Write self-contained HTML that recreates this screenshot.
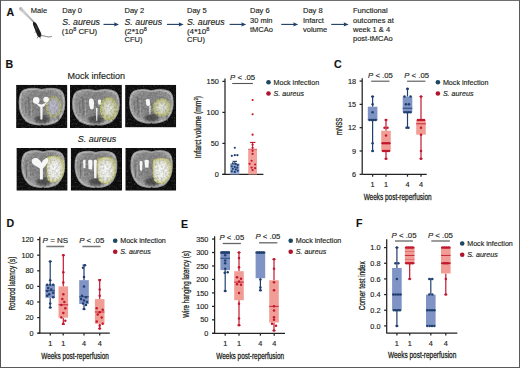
<!DOCTYPE html>
<html><head><meta charset="utf-8"><style>
html,body{margin:0;padding:0;background:#fff;}
svg{display:block;font-family:"Liberation Sans", sans-serif;}
text{stroke:#231f20;stroke-width:0.15px;}
text.c{stroke-width:0.28px;}
</style></head><body>
<svg width="520" height="368" viewBox="0 0 520 368">
<defs><linearGradient id="pip" x1="0" y1="0" x2="1" y2="1"><stop offset="0" stop-color="#b0b0b0"/><stop offset="0.3" stop-color="#d0d0d0"/><stop offset="0.7" stop-color="#b8b8b8"/><stop offset="1" stop-color="#808080"/></linearGradient><radialGradient id="brg" cx="0.5" cy="0.42" r="0.6"><stop offset="0" stop-color="#848484"/><stop offset="0.6" stop-color="#8c8c8c"/><stop offset="0.82" stop-color="#9e9e9e"/><stop offset="1" stop-color="#b6b6b6"/></radialGradient>
<radialGradient id="lesA" cx="0.5" cy="0.5" r="0.5"><stop offset="0" stop-color="#c4c4da"/><stop offset="0.6" stop-color="#b4b4c0"/><stop offset="1" stop-color="#a8aa84"/></radialGradient>
<radialGradient id="lesB" cx="0.5" cy="0.5" r="0.5"><stop offset="0" stop-color="#f4f4f0"/><stop offset="0.45" stop-color="#dadcc8"/><stop offset="1" stop-color="#b8ba7c"/></radialGradient>
<radialGradient id="lesC" cx="0.45" cy="0.5" r="0.55"><stop offset="0" stop-color="#ffffff"/><stop offset="0.6" stop-color="#eeeee6"/><stop offset="1" stop-color="#cacc92"/></radialGradient>
<filter id="bl" x="-0.2" y="-0.2" width="1.4" height="1.4"><feGaussianBlur stdDeviation="0.5"/></filter>
<filter id="bl3" x="-0.2" y="-0.2" width="1.4" height="1.4"><feGaussianBlur stdDeviation="0.3"/></filter>
<filter id="bl4" x="0" y="0" width="1" height="1"><feGaussianBlur stdDeviation="0.3"/></filter>
<filter id="bl2" x="-0.3" y="-0.3" width="1.6" height="1.6"><feGaussianBlur stdDeviation="1.0"/></filter>
<filter id="noise" x="0" y="0" width="1" height="1"><feTurbulence type="fractalNoise" baseFrequency="0.55" numOctaves="3" seed="7"/><feColorMatrix values="0 0 0 0 0.6  0 0 0 0 0.6  0 0 0 0 0.62  1.6 0 0 0 -0.72"/><feComposite in2="SourceGraphic" operator="in"/></filter>
<filter id="noise2" x="0" y="0" width="1" height="1"><feTurbulence type="fractalNoise" baseFrequency="0.5" numOctaves="2" seed="19"/><feColorMatrix values="0 0 0 0 0  0 0 0 0 0  0 0 0 0 0  0 1.5 0 0 -0.55"/><feComposite in2="SourceGraphic" operator="in"/></filter>
<clipPath id="bclip"><rect x="0" y="0" width="51" height="43"/></clipPath></defs>
<rect x="0.00" y="0.00" width="520.00" height="368.00" fill="#ffffff"/>
<text x="6.4" y="15.6" font-size="10.6" text-anchor="start" font-weight="bold" font-style="normal" fill="#111">A</text>
<text x="30.8" y="12.9" font-size="7.5" text-anchor="start" font-weight="normal" font-style="normal" fill="#231f20">Male</text>
<path d="M19.0 9.4 C18.6 7.6 20.4 6.4 21.8 7.4 L34.7 22.1 L33.8 23.0 Z" fill="url(#pip)"/>
<path d="M33.2 22.2 C34.8 21.4 36.0 22.6 36.9 24.4 L41.0 33.0 C41.8 35.0 41.3 36.8 39.7 37.2 C38.3 37.4 37.4 36.1 36.9 34.6 L33.3 25.4 C32.9 24.0 32.7 22.8 33.2 22.2 Z" fill="#1e1e1e"/>
<path d="M35.2 25.6 C35.8 26.2 36.4 27.6 36.9 29.2" stroke="#6a6a6a" stroke-width="0.5" fill="none"/>
<path d="M40.4 35.7 C43.4 35.4 45.8 36.6 48.4 36.9 C49.9 37.0 50.9 36.8 51.8 36.4" fill="none" stroke="#4a4a4a" stroke-width="0.7"/>
<path d="M38.0 36.4 L37.2 38.4 M39.9 36.8 L40.4 38.6 M36.0 31.6 L34.6 32.4" stroke="#333" stroke-width="0.55"/>
<text x="62.3" y="13.0" font-size="7.5" text-anchor="start" font-weight="normal" font-style="normal" fill="#231f20">Day 0</text>
<text x="62.3" y="25.2" font-size="8.8" text-anchor="start" font-weight="normal" font-style="italic" fill="#231f20">S. aureus</text>
<text x="61.8" y="33.8" font-size="7.5" fill="#231f20" textLength="35.4" lengthAdjust="spacingAndGlyphs">(10<tspan dy="-3.0" font-size="5.2">8</tspan><tspan dy="3.0"> CFU)</tspan></text>
<line x1="103.50" y1="24.40" x2="116.00" y2="24.40" stroke="#1f3d66" stroke-width="1.1"/>
<path d="M119.0 24.4 L114.0 22.2 L114.8 24.4 L114.0 26.599999999999998 Z" fill="#1f3d66"/>
<text x="124.5" y="13.0" font-size="7.5" text-anchor="start" font-weight="normal" font-style="normal" fill="#231f20">Day 2</text>
<text x="124.5" y="25.2" font-size="8.8" text-anchor="start" font-weight="normal" font-style="italic" fill="#231f20">S. aureus</text>
<text x="124.4" y="33.8" font-size="7.5" fill="#231f20" textLength="22.6" lengthAdjust="spacingAndGlyphs">(2*10<tspan dy="-3.0" font-size="5.2">8</tspan></text>
<text x="124.5" y="42.1" font-size="7.5" text-anchor="start" font-weight="normal" font-style="normal" fill="#231f20">CFU)</text>
<line x1="167.00" y1="24.40" x2="180.60" y2="24.40" stroke="#1f3d66" stroke-width="1.1"/>
<path d="M183.6 24.4 L178.6 22.2 L179.4 24.4 L178.6 26.599999999999998 Z" fill="#1f3d66"/>
<text x="187.0" y="13.0" font-size="7.5" text-anchor="start" font-weight="normal" font-style="normal" fill="#231f20">Day 5</text>
<text x="187.0" y="25.2" font-size="8.8" text-anchor="start" font-weight="normal" font-style="italic" fill="#231f20">S. aureus</text>
<text x="186.9" y="33.8" font-size="7.5" fill="#231f20" textLength="22.6" lengthAdjust="spacingAndGlyphs">(4*10<tspan dy="-3.0" font-size="5.2">8</tspan></text>
<text x="187.0" y="42.1" font-size="7.5" text-anchor="start" font-weight="normal" font-style="normal" fill="#231f20">CFU)</text>
<line x1="229.60" y1="24.40" x2="243.20" y2="24.40" stroke="#1f3d66" stroke-width="1.1"/>
<path d="M246.2 24.4 L241.2 22.2 L242.0 24.4 L241.2 26.599999999999998 Z" fill="#1f3d66"/>
<text x="250.0" y="13.0" font-size="7.5" text-anchor="start" font-weight="normal" font-style="normal" fill="#231f20">Day 6</text>
<text x="250.0" y="22.6" font-size="7.5" text-anchor="start" font-weight="normal" font-style="normal" fill="#231f20">30 min</text>
<text x="250.0" y="31.9" font-size="7.5" text-anchor="start" font-weight="normal" font-style="normal" fill="#231f20">tMCAo</text>
<line x1="281.20" y1="24.40" x2="295.20" y2="24.40" stroke="#1f3d66" stroke-width="1.1"/>
<path d="M298.2 24.4 L293.2 22.2 L294.0 24.4 L293.2 26.599999999999998 Z" fill="#1f3d66"/>
<text x="303.0" y="13.0" font-size="7.5" text-anchor="start" font-weight="normal" font-style="normal" fill="#231f20">Day 8</text>
<text x="303.0" y="22.6" font-size="7.5" text-anchor="start" font-weight="normal" font-style="normal" fill="#231f20">Infarct</text>
<text x="303.0" y="31.9" font-size="7.5" text-anchor="start" font-weight="normal" font-style="normal" fill="#231f20">volume</text>
<line x1="331.20" y1="24.40" x2="345.60" y2="24.40" stroke="#1f3d66" stroke-width="1.1"/>
<path d="M348.6 24.4 L343.6 22.2 L344.40000000000003 24.4 L343.6 26.599999999999998 Z" fill="#1f3d66"/>
<text x="353.0" y="13.0" font-size="7.5" text-anchor="start" font-weight="normal" font-style="normal" fill="#231f20">Functional</text>
<text x="353.0" y="22.6" font-size="7.5" text-anchor="start" font-weight="normal" font-style="normal" fill="#231f20">outcomes at</text>
<text x="353.0" y="31.9" font-size="7.5" text-anchor="start" font-weight="normal" font-style="normal" fill="#231f20">week 1 &amp; 4</text>
<text x="353.0" y="41.3" font-size="7.5" text-anchor="start" font-weight="normal" font-style="normal" fill="#231f20">post-tMCAo</text>
<text x="5.5" y="68.4" font-size="10.6" text-anchor="start" font-weight="bold" font-style="normal" fill="#111">B</text>
<text x="67.4" y="79.3" font-size="9.0" text-anchor="start" font-weight="normal" font-style="normal" fill="#231f20">Mock infection</text>
<text x="77.8" y="142.3" font-size="9.0" text-anchor="start" font-weight="normal" font-style="italic" fill="#231f20">S. aureus</text>
<g transform="translate(16.1 84.8) scale(1.0059 1.0070)" clip-path="url(#bclip)"><g filter="url(#bl4)"><rect x="0" y="0" width="51" height="43" fill="#0a0a0a"/><path d="M25.70 5.22 C31.03 3.80 39.02 3.44 43.46 5.58 C47.01 7.36 47.90 11.63 47.90 18.04 C47.90 25.87 45.68 31.57 40.80 35.84 C36.36 38.69 31.03 39.40 27.48 39.40 L25.70 38.69 L23.92 39.40 C20.37 39.40 15.04 38.69 10.60 35.84 C5.72 31.57 3.50 25.87 3.50 18.04 C3.50 11.63 4.39 7.36 7.94 5.58 C12.38 3.44 20.37 3.80 25.70 5.22 Z" fill="url(#brg)" filter="url(#bl)"/><path d="M25.70 5.22 C31.03 3.80 39.02 3.44 43.46 5.58 C47.01 7.36 47.90 11.63 47.90 18.04 C47.90 25.87 45.68 31.57 40.80 35.84 C36.36 38.69 31.03 39.40 27.48 39.40 L25.70 38.69 L23.92 39.40 C20.37 39.40 15.04 38.69 10.60 35.84 C5.72 31.57 3.50 25.87 3.50 18.04 C3.50 11.63 4.39 7.36 7.94 5.58 C12.38 3.44 20.37 3.80 25.70 5.22 Z" fill="none" stroke="#c8c8c8" stroke-width="2.0" opacity="0.7" filter="url(#bl)"/><ellipse cx="25.70" cy="34.42" rx="7.55" ry="4.27" fill="#3a3a3a" opacity="0.75" filter="url(#bl2)"/><path d="M12.5 12 L13.1 30" stroke="#707070" stroke-width="1.2" filter="url(#bl)"/><path d="M14.8 14 L15.4 31" stroke="#aaaaaa" stroke-width="0.9" filter="url(#bl)"/><path d="M9.0 14 L9.6 28" stroke="#7a7a7a" stroke-width="1.0" filter="url(#bl)"/><path d="M41.5 30 L42.1 36" stroke="#6a6a6a" stroke-width="1.0" filter="url(#bl)"/><ellipse cx="37.2" cy="21.8" rx="7.2" ry="10.0" fill="url(#lesA)" filter="url(#bl)"/><ellipse cx="37.2" cy="21.8" rx="7.2" ry="10.0" fill="none" stroke="#d4d256" stroke-width="1.1" stroke-dasharray="1 0.6" opacity="0.85" filter="url(#bl3)"/><rect x="0" y="0" width="51" height="43" fill="#fff" filter="url(#noise)" opacity="0.3"/><path d="M25.70 5.22 C31.03 3.80 39.02 3.44 43.46 5.58 C47.01 7.36 47.90 11.63 47.90 18.04 C47.90 25.87 45.68 31.57 40.80 35.84 C36.36 38.69 31.03 39.40 27.48 39.40 L25.70 38.69 L23.92 39.40 C20.37 39.40 15.04 38.69 10.60 35.84 C5.72 31.57 3.50 25.87 3.50 18.04 C3.50 11.63 4.39 7.36 7.94 5.58 C12.38 3.44 20.37 3.80 25.70 5.22 Z" fill="#000" filter="url(#noise2)" opacity="0.3"/><g fill="#f6f6f6" filter="url(#bl)"><path d="M16.7 15.5 a3.3 3.3 0 1 0 6.6 0 a3.3 3.3 0 1 0 -6.6 0 Z"/><path d="M27.0 14.6 a2.8 2.8 0 1 0 5.6 0 a2.8 2.8 0 1 0 -5.6 0 Z"/><path d="M18.6 17.4 L23.0 21.8 L27.6 21.8 L31.2 16.6 L28.0 18.6 L25.2 19.6 L22.0 18.6 Z"/><path d="M24.0 20.0 L26.4 20.0 L26.2 34.5 L24.2 34.5 Z"/></g></g></g>
<g transform="translate(70.0 84.8) scale(1.0176 1.0070)" clip-path="url(#bclip)"><g filter="url(#bl4)"><rect x="0" y="0" width="51" height="43" fill="#0a0a0a"/><path d="M25.50 6.48 C30.90 5.10 39.00 4.76 43.50 6.82 C47.10 8.54 48.00 12.67 48.00 18.86 C48.00 26.43 45.75 31.93 40.80 36.06 C36.30 38.81 30.90 39.50 27.30 39.50 L25.50 38.81 L23.70 39.50 C20.10 39.50 14.70 38.81 10.20 36.06 C5.25 31.93 3.00 26.43 3.00 18.86 C3.00 12.67 3.90 8.54 7.50 6.82 C12.00 4.76 20.10 5.10 25.50 6.48 Z" fill="url(#brg)" filter="url(#bl)"/><path d="M25.50 6.48 C30.90 5.10 39.00 4.76 43.50 6.82 C47.10 8.54 48.00 12.67 48.00 18.86 C48.00 26.43 45.75 31.93 40.80 36.06 C36.30 38.81 30.90 39.50 27.30 39.50 L25.50 38.81 L23.70 39.50 C20.10 39.50 14.70 38.81 10.20 36.06 C5.25 31.93 3.00 26.43 3.00 18.86 C3.00 12.67 3.90 8.54 7.50 6.82 C12.00 4.76 20.10 5.10 25.50 6.48 Z" fill="none" stroke="#c8c8c8" stroke-width="2.0" opacity="0.7" filter="url(#bl)"/><ellipse cx="25.50" cy="34.68" rx="7.65" ry="4.13" fill="#3a3a3a" opacity="0.75" filter="url(#bl2)"/><path d="M12.5 12 L13.1 30" stroke="#707070" stroke-width="1.2" filter="url(#bl)"/><path d="M14.8 14 L15.4 31" stroke="#aaaaaa" stroke-width="0.9" filter="url(#bl)"/><path d="M9.0 14 L9.6 28" stroke="#7a7a7a" stroke-width="1.0" filter="url(#bl)"/><path d="M41.5 30 L42.1 36" stroke="#6a6a6a" stroke-width="1.0" filter="url(#bl)"/><ellipse cx="38.0" cy="23.8" rx="8.1" ry="11.2" fill="url(#lesB)" filter="url(#bl)"/><ellipse cx="38.0" cy="23.8" rx="8.1" ry="11.2" fill="none" stroke="#d4d256" stroke-width="1.1" stroke-dasharray="1 0.6" opacity="0.85" filter="url(#bl3)"/><rect x="0" y="0" width="51" height="43" fill="#fff" filter="url(#noise)" opacity="0.3"/><path d="M25.50 6.48 C30.90 5.10 39.00 4.76 43.50 6.82 C47.10 8.54 48.00 12.67 48.00 18.86 C48.00 26.43 45.75 31.93 40.80 36.06 C36.30 38.81 30.90 39.50 27.30 39.50 L25.50 38.81 L23.70 39.50 C20.10 39.50 14.70 38.81 10.20 36.06 C5.25 31.93 3.00 26.43 3.00 18.86 C3.00 12.67 3.90 8.54 7.50 6.82 C12.00 4.76 20.10 5.10 25.50 6.48 Z" fill="#000" filter="url(#noise2)" opacity="0.3"/><g fill="#f6f6f6" filter="url(#bl)"><path d="M18.6 16.2 C18.6 13.6 20.2 13.4 21.2 13.6 C23.0 14.0 23.6 16.0 23.6 18.4 L23.2 23.6 C22.4 25.0 20.6 25.0 19.8 23.6 C19.0 21.6 18.6 18.6 18.6 16.2 Z"/><path d="M27.4 16.0 C27.6 14.4 29.8 14.0 30.8 15.4 L30.0 19.8 L27.8 19.6 Z"/><path d="M25.6 23.0 L27.0 23.0 L26.8 35.6 L25.8 35.6 Z"/></g></g></g>
<g transform="translate(125.1 84.8) scale(1.0020 0.9907)" clip-path="url(#bclip)"><g filter="url(#bl4)"><rect x="0" y="0" width="51" height="43" fill="#0a0a0a"/><path d="M26.25 6.42 C31.35 5.10 39.00 4.77 43.25 6.75 C46.65 8.41 47.50 12.38 47.50 18.34 C47.50 25.62 45.38 30.92 40.70 34.89 C36.45 37.54 31.35 38.20 27.95 38.20 L26.25 37.54 L24.55 38.20 C21.15 38.20 16.05 37.54 11.80 34.89 C7.12 30.92 5.00 25.62 5.00 18.34 C5.00 12.38 5.85 8.41 9.25 6.75 C13.50 4.77 21.15 5.10 26.25 6.42 Z" fill="url(#brg)" filter="url(#bl)"/><path d="M26.25 6.42 C31.35 5.10 39.00 4.77 43.25 6.75 C46.65 8.41 47.50 12.38 47.50 18.34 C47.50 25.62 45.38 30.92 40.70 34.89 C36.45 37.54 31.35 38.20 27.95 38.20 L26.25 37.54 L24.55 38.20 C21.15 38.20 16.05 37.54 11.80 34.89 C7.12 30.92 5.00 25.62 5.00 18.34 C5.00 12.38 5.85 8.41 9.25 6.75 C13.50 4.77 21.15 5.10 26.25 6.42 Z" fill="none" stroke="#c8c8c8" stroke-width="2.0" opacity="0.7" filter="url(#bl)"/><ellipse cx="26.25" cy="33.57" rx="7.23" ry="3.97" fill="#3a3a3a" opacity="0.75" filter="url(#bl2)"/><path d="M12.5 12 L13.1 30" stroke="#707070" stroke-width="1.2" filter="url(#bl)"/><path d="M14.8 14 L15.4 31" stroke="#aaaaaa" stroke-width="0.9" filter="url(#bl)"/><path d="M9.0 14 L9.6 28" stroke="#7a7a7a" stroke-width="1.0" filter="url(#bl)"/><path d="M41.5 30 L42.1 36" stroke="#6a6a6a" stroke-width="1.0" filter="url(#bl)"/><ellipse cx="36.6" cy="22.9" rx="8.4" ry="8.6" fill="url(#lesB)" filter="url(#bl)"/><ellipse cx="36.6" cy="22.9" rx="8.4" ry="8.6" fill="none" stroke="#d4d256" stroke-width="1.1" stroke-dasharray="1 0.6" opacity="0.85" filter="url(#bl3)"/><rect x="0" y="0" width="51" height="43" fill="#fff" filter="url(#noise)" opacity="0.3"/><path d="M26.25 6.42 C31.35 5.10 39.00 4.77 43.25 6.75 C46.65 8.41 47.50 12.38 47.50 18.34 C47.50 25.62 45.38 30.92 40.70 34.89 C36.45 37.54 31.35 38.20 27.95 38.20 L26.25 37.54 L24.55 38.20 C21.15 38.20 16.05 37.54 11.80 34.89 C7.12 30.92 5.00 25.62 5.00 18.34 C5.00 12.38 5.85 8.41 9.25 6.75 C13.50 4.77 21.15 5.10 26.25 6.42 Z" fill="#000" filter="url(#noise2)" opacity="0.3"/><g fill="#f6f6f6" filter="url(#bl)"><path d="M20.6 15.6 C21.0 14.0 23.4 13.8 24.6 15.0 L25.0 20.4 C24.0 21.6 22.0 21.6 21.2 20.4 Z"/><path d="M24.2 21.0 L25.4 21.0 L25.2 30.0 L24.4 30.0 Z"/></g></g></g>
<g transform="translate(16.4 148.0) scale(1.0039 0.9930)" clip-path="url(#bclip)"><g filter="url(#bl4)"><rect x="0" y="0" width="51" height="43" fill="#0a0a0a"/><path d="M26.65 4.45 C31.68 3.00 39.22 2.64 43.41 4.81 C46.76 6.62 47.60 10.96 47.60 17.48 C47.60 25.44 45.51 31.24 40.90 35.58 C36.71 38.48 31.68 39.20 28.33 39.20 L26.65 38.48 L24.97 39.20 C21.62 39.20 16.59 38.48 12.40 35.58 C7.79 31.24 5.70 25.44 5.70 17.48 C5.70 10.96 6.54 6.62 9.89 4.81 C14.08 2.64 21.62 3.00 26.65 4.45 Z" fill="url(#brg)" filter="url(#bl)"/><path d="M26.65 4.45 C31.68 3.00 39.22 2.64 43.41 4.81 C46.76 6.62 47.60 10.96 47.60 17.48 C47.60 25.44 45.51 31.24 40.90 35.58 C36.71 38.48 31.68 39.20 28.33 39.20 L26.65 38.48 L24.97 39.20 C21.62 39.20 16.59 38.48 12.40 35.58 C7.79 31.24 5.70 25.44 5.70 17.48 C5.70 10.96 6.54 6.62 9.89 4.81 C14.08 2.64 21.62 3.00 26.65 4.45 Z" fill="none" stroke="#c8c8c8" stroke-width="2.0" opacity="0.7" filter="url(#bl)"/><ellipse cx="26.65" cy="34.13" rx="7.12" ry="4.34" fill="#3a3a3a" opacity="0.75" filter="url(#bl2)"/><path d="M9.5 12 L10.1 30" stroke="#707070" stroke-width="1.0" filter="url(#bl)"/><path d="M12.0 14 L12.6 30" stroke="#aaaaaa" stroke-width="0.8" filter="url(#bl)"/><path d="M31.0 9.4 Q38.6 7.2 44.2 10.0 Q47.8 14.2 47.4 21.4 Q46.6 29.8 40.8 33.8 Q34.8 35.4 31.6 32.4 Q29.6 22 31.0 9.4 Z" fill="url(#lesC)" filter="url(#bl)"/><path d="M31.0 9.4 Q38.6 7.2 44.2 10.0 Q47.8 14.2 47.4 21.4 Q46.6 29.8 40.8 33.8 Q34.8 35.4 31.6 32.4 Q29.6 22 31.0 9.4 Z" fill="none" stroke="#d4d256" stroke-width="1.1" stroke-dasharray="1 0.6" opacity="0.85" filter="url(#bl3)"/><rect x="0" y="0" width="51" height="43" fill="#fff" filter="url(#noise)" opacity="0.3"/><path d="M26.65 4.45 C31.68 3.00 39.22 2.64 43.41 4.81 C46.76 6.62 47.60 10.96 47.60 17.48 C47.60 25.44 45.51 31.24 40.90 35.58 C36.71 38.48 31.68 39.20 28.33 39.20 L26.65 38.48 L24.97 39.20 C21.62 39.20 16.59 38.48 12.40 35.58 C7.79 31.24 5.70 25.44 5.70 17.48 C5.70 10.96 6.54 6.62 9.89 4.81 C14.08 2.64 21.62 3.00 26.65 4.45 Z" fill="#000" filter="url(#noise2)" opacity="0.3"/><g fill="#f6f6f6" filter="url(#bl)"><path d="M15.2 13.2 C15.4 10.2 18.6 9.6 21.0 10.4 L23.6 12.6 L25.0 15.0 L26.4 12.6 L29.4 10.2 C32.0 9.6 32.2 12.4 31.2 14.6 L28.8 18.2 L26.4 20.6 L26.4 31.8 L23.4 31.8 L23.4 20.6 L20.2 18.6 C16.8 17.0 15.2 15.4 15.2 13.2 Z"/></g></g></g>
<g transform="translate(70.7 148.0) scale(1.0059 0.9930)" clip-path="url(#bclip)"><g filter="url(#bl4)"><rect x="0" y="0" width="51" height="43" fill="#0a0a0a"/><path d="M25.10 5.02 C29.97 3.60 37.28 3.24 41.34 5.38 C44.59 7.16 45.40 11.43 45.40 17.84 C45.40 25.67 43.37 31.37 38.90 35.64 C34.84 38.49 29.97 39.20 26.72 39.20 L25.10 38.49 L23.48 39.20 C20.23 39.20 15.36 38.49 11.30 35.64 C6.83 31.37 4.80 25.67 4.80 17.84 C4.80 11.43 5.61 7.16 8.86 5.38 C12.92 3.24 20.23 3.60 25.10 5.02 Z" fill="url(#brg)" filter="url(#bl)"/><path d="M25.10 5.02 C29.97 3.60 37.28 3.24 41.34 5.38 C44.59 7.16 45.40 11.43 45.40 17.84 C45.40 25.67 43.37 31.37 38.90 35.64 C34.84 38.49 29.97 39.20 26.72 39.20 L25.10 38.49 L23.48 39.20 C20.23 39.20 15.36 38.49 11.30 35.64 C6.83 31.37 4.80 25.67 4.80 17.84 C4.80 11.43 5.61 7.16 8.86 5.38 C12.92 3.24 20.23 3.60 25.10 5.02 Z" fill="none" stroke="#c8c8c8" stroke-width="2.0" opacity="0.7" filter="url(#bl)"/><ellipse cx="25.10" cy="34.22" rx="6.90" ry="4.27" fill="#3a3a3a" opacity="0.75" filter="url(#bl2)"/><path d="M9.5 12 L10.1 30" stroke="#707070" stroke-width="1.0" filter="url(#bl)"/><path d="M12.0 14 L12.6 30" stroke="#aaaaaa" stroke-width="0.8" filter="url(#bl)"/><path d="M27.2 10.8 Q35 8.6 41.6 10.6 Q45 15 44.4 22 Q43.4 31 37.4 35.2 Q31 36.2 28 32.2 Q25.8 22 27.2 10.8 Z" fill="url(#lesC)" filter="url(#bl)"/><path d="M27.2 10.8 Q35 8.6 41.6 10.6 Q45 15 44.4 22 Q43.4 31 37.4 35.2 Q31 36.2 28 32.2 Q25.8 22 27.2 10.8 Z" fill="none" stroke="#d4d256" stroke-width="1.1" stroke-dasharray="1 0.6" opacity="0.85" filter="url(#bl3)"/><rect x="0" y="0" width="51" height="43" fill="#fff" filter="url(#noise)" opacity="0.3"/><path d="M25.10 5.02 C29.97 3.60 37.28 3.24 41.34 5.38 C44.59 7.16 45.40 11.43 45.40 17.84 C45.40 25.67 43.37 31.37 38.90 35.64 C34.84 38.49 29.97 39.20 26.72 39.20 L25.10 38.49 L23.48 39.20 C20.23 39.20 15.36 38.49 11.30 35.64 C6.83 31.37 4.80 25.67 4.80 17.84 C4.80 11.43 5.61 7.16 8.86 5.38 C12.92 3.24 20.23 3.60 25.10 5.02 Z" fill="#000" filter="url(#noise2)" opacity="0.3"/><g fill="#f6f6f6" filter="url(#bl)"><path d="M12.3 13.0 C12.4 11.6 14.4 11.4 14.8 13.0 L14.6 20.4 L12.6 20.2 Z"/><path d="M17.3 13.0 C17.6 11.4 21.2 11.4 21.7 13.2 L21.4 21.6 L17.8 21.4 Z"/><path d="M22.9 12.8 C23.2 11.6 25.8 11.6 26.0 12.8 L25.6 30.5 L23.4 30.5 Z"/></g></g></g>
<g transform="translate(125.3 148.0) scale(0.9980 0.9930)" clip-path="url(#bclip)"><g filter="url(#bl4)"><rect x="0" y="0" width="51" height="43" fill="#0a0a0a"/><path d="M26.40 4.45 C31.27 3.00 38.58 2.64 42.64 4.81 C45.89 6.62 46.70 10.96 46.70 17.48 C46.70 25.44 44.67 31.24 40.20 35.58 C36.14 38.48 31.27 39.20 28.02 39.20 L26.40 38.48 L24.78 39.20 C21.53 39.20 16.66 38.48 12.60 35.58 C8.13 31.24 6.10 25.44 6.10 17.48 C6.10 10.96 6.91 6.62 10.16 4.81 C14.22 2.64 21.53 3.00 26.40 4.45 Z" fill="url(#brg)" filter="url(#bl)"/><path d="M26.40 4.45 C31.27 3.00 38.58 2.64 42.64 4.81 C45.89 6.62 46.70 10.96 46.70 17.48 C46.70 25.44 44.67 31.24 40.20 35.58 C36.14 38.48 31.27 39.20 28.02 39.20 L26.40 38.48 L24.78 39.20 C21.53 39.20 16.66 38.48 12.60 35.58 C8.13 31.24 6.10 25.44 6.10 17.48 C6.10 10.96 6.91 6.62 10.16 4.81 C14.22 2.64 21.53 3.00 26.40 4.45 Z" fill="none" stroke="#c8c8c8" stroke-width="2.0" opacity="0.7" filter="url(#bl)"/><ellipse cx="26.40" cy="34.13" rx="6.90" ry="4.34" fill="#3a3a3a" opacity="0.75" filter="url(#bl2)"/><path d="M9.5 12 L10.1 30" stroke="#707070" stroke-width="1.0" filter="url(#bl)"/><path d="M12.0 14 L12.6 30" stroke="#aaaaaa" stroke-width="0.8" filter="url(#bl)"/><path d="M28.4 12.0 Q36 9.6 42.6 11.4 Q46.4 15.6 45.8 23 Q44.8 31.2 38.6 35.2 Q32 36.2 29 32.4 Q27 22.6 28.4 12.0 Z" fill="url(#lesC)" filter="url(#bl)"/><path d="M28.4 12.0 Q36 9.6 42.6 11.4 Q46.4 15.6 45.8 23 Q44.8 31.2 38.6 35.2 Q32 36.2 29 32.4 Q27 22.6 28.4 12.0 Z" fill="none" stroke="#d4d256" stroke-width="1.1" stroke-dasharray="1 0.6" opacity="0.85" filter="url(#bl3)"/><rect x="0" y="0" width="51" height="43" fill="#fff" filter="url(#noise)" opacity="0.3"/><path d="M26.40 4.45 C31.27 3.00 38.58 2.64 42.64 4.81 C45.89 6.62 46.70 10.96 46.70 17.48 C46.70 25.44 44.67 31.24 40.20 35.58 C36.14 38.48 31.27 39.20 28.02 39.20 L26.40 38.48 L24.78 39.20 C21.53 39.20 16.66 38.48 12.60 35.58 C8.13 31.24 6.10 25.44 6.10 17.48 C6.10 10.96 6.91 6.62 10.16 4.81 C14.22 2.64 21.53 3.00 26.40 4.45 Z" fill="#000" filter="url(#noise2)" opacity="0.3"/><g fill="#f6f6f6" filter="url(#bl)"><path d="M19.2 13.0 C19.6 11.6 23.2 11.6 23.6 13.0 L23.2 19.8 L19.8 19.6 Z"/><path d="M14.2 14.2 C14.6 12.8 16.8 12.8 17.3 14.2 L16.8 23.0 L14.8 22.6 Z"/></g></g></g>
<line x1="225.00" y1="78.60" x2="225.00" y2="174.40" stroke="#222" stroke-width="1.25"/>
<line x1="222.40" y1="81.40" x2="225.00" y2="81.40" stroke="#222" stroke-width="1.25"/>
<text x="218.8" y="84.0" font-size="7.3" text-anchor="end" font-weight="normal" font-style="normal" fill="#231f20">150</text>
<line x1="222.40" y1="112.40" x2="225.00" y2="112.40" stroke="#222" stroke-width="1.25"/>
<text x="218.8" y="115.0" font-size="7.3" text-anchor="end" font-weight="normal" font-style="normal" fill="#231f20">100</text>
<line x1="222.40" y1="143.40" x2="225.00" y2="143.40" stroke="#222" stroke-width="1.25"/>
<text x="218.8" y="146.0" font-size="7.3" text-anchor="end" font-weight="normal" font-style="normal" fill="#231f20">50</text>
<line x1="222.40" y1="174.40" x2="225.00" y2="174.40" stroke="#222" stroke-width="1.25"/>
<text x="218.8" y="177.0" font-size="7.3" text-anchor="end" font-weight="normal" font-style="normal" fill="#231f20">0</text>
<line x1="222.30" y1="174.40" x2="263.40" y2="174.40" stroke="#222" stroke-width="1.3"/>
<text class="c" transform="translate(200.6 127.2) rotate(-90)" x="0" y="0" font-size="8.5" text-anchor="middle" font-style="normal" fill="#231f20" textLength="62.3" lengthAdjust="spacingAndGlyphs">Infarct volume (mm<tspan dy="-2.6" font-size="5.2">3</tspan><tspan dy="2.6">)</tspan></text>
<text x="230.1" y="80.4" font-size="7.8" fill="#231f20" textLength="25.000000000000018" lengthAdjust="spacingAndGlyphs"><tspan font-style="italic">P</tspan> &lt; .05</text>
<line x1="232.20" y1="83.50" x2="252.90" y2="83.50" stroke="#555" stroke-width="1.1"/>
<rect x="230.20" y="164.17" width="9.20" height="10.23" fill="#93a8d6"/>
<rect x="248.20" y="149.23" width="8.80" height="25.17" fill="#f2a29a"/>
<line x1="234.80" y1="164.17" x2="234.80" y2="161.38" stroke="#213f6e" stroke-width="1.0"/>
<line x1="232.60" y1="161.38" x2="237.00" y2="161.38" stroke="#213f6e" stroke-width="1.1"/>
<line x1="252.60" y1="149.23" x2="252.60" y2="142.41" stroke="#c3172f" stroke-width="1.0"/>
<line x1="250.00" y1="142.41" x2="255.40" y2="142.41" stroke="#c3172f" stroke-width="1.1"/>
<line x1="230.20" y1="164.17" x2="239.40" y2="164.17" stroke="#213f6e" stroke-width="0.6"/>
<line x1="248.20" y1="149.23" x2="257.00" y2="149.23" stroke="#c3172f" stroke-width="0.6"/>
<circle cx="234.80" cy="147.74" r="1.1" fill="#213f6e"/>
<circle cx="231.80" cy="155.80" r="1.1" fill="#213f6e"/>
<circle cx="234.80" cy="155.18" r="1.1" fill="#213f6e"/>
<circle cx="237.40" cy="155.18" r="1.1" fill="#213f6e"/>
<circle cx="232.80" cy="163.24" r="1.1" fill="#213f6e"/>
<circle cx="235.80" cy="163.86" r="1.1" fill="#213f6e"/>
<circle cx="237.80" cy="165.10" r="1.1" fill="#213f6e"/>
<circle cx="231.80" cy="166.34" r="1.1" fill="#213f6e"/>
<circle cx="234.80" cy="166.96" r="1.1" fill="#213f6e"/>
<circle cx="237.30" cy="167.58" r="1.1" fill="#213f6e"/>
<circle cx="232.80" cy="168.82" r="1.1" fill="#213f6e"/>
<circle cx="235.80" cy="169.44" r="1.1" fill="#213f6e"/>
<circle cx="237.80" cy="170.68" r="1.1" fill="#213f6e"/>
<circle cx="231.80" cy="171.30" r="1.1" fill="#213f6e"/>
<circle cx="234.80" cy="171.92" r="1.1" fill="#213f6e"/>
<circle cx="252.60" cy="100.00" r="1.1" fill="#c3172f"/>
<circle cx="252.60" cy="114.26" r="1.1" fill="#c3172f"/>
<circle cx="252.60" cy="134.72" r="1.1" fill="#c3172f"/>
<circle cx="252.60" cy="144.64" r="1.1" fill="#c3172f"/>
<circle cx="252.60" cy="147.74" r="1.1" fill="#c3172f"/>
<circle cx="252.60" cy="150.84" r="1.1" fill="#c3172f"/>
<circle cx="252.60" cy="153.94" r="1.1" fill="#c3172f"/>
<circle cx="251.60" cy="160.76" r="1.1" fill="#c3172f"/>
<circle cx="249.60" cy="163.86" r="1.1" fill="#c3172f"/>
<circle cx="255.10" cy="164.48" r="1.1" fill="#c3172f"/>
<circle cx="251.60" cy="167.58" r="1.1" fill="#c3172f"/>
<circle cx="255.10" cy="168.20" r="1.1" fill="#c3172f"/>
<circle cx="252.60" cy="170.06" r="1.1" fill="#c3172f"/>
<circle cx="268.50" cy="82.30" r="2.3" fill="#1a4862"/>
<circle cx="268.50" cy="93.50" r="2.3" fill="#ae142e"/>
<text x="273.5" y="84.89999999999999" font-size="7.15" text-anchor="start" font-weight="normal" font-style="normal" fill="#231f20">Mock infection</text>
<text x="273.5" y="96.1" font-size="7.15" text-anchor="start" font-weight="normal" font-style="italic" fill="#231f20">S. aureus</text>
<text x="334.0" y="68.3" font-size="10.6" text-anchor="start" font-weight="bold" font-style="normal" fill="#111">C</text>
<line x1="362.20" y1="78.26" x2="362.20" y2="174.30" stroke="#222" stroke-width="1.25"/>
<line x1="359.60" y1="81.06" x2="362.20" y2="81.06" stroke="#222" stroke-width="1.25"/>
<text x="356.0" y="83.66" font-size="7.3" text-anchor="end" font-weight="normal" font-style="normal" fill="#231f20">18</text>
<line x1="359.60" y1="104.37" x2="362.20" y2="104.37" stroke="#222" stroke-width="1.25"/>
<text x="356.0" y="106.97" font-size="7.3" text-anchor="end" font-weight="normal" font-style="normal" fill="#231f20">15</text>
<line x1="359.60" y1="127.68" x2="362.20" y2="127.68" stroke="#222" stroke-width="1.25"/>
<text x="356.0" y="130.28" font-size="7.3" text-anchor="end" font-weight="normal" font-style="normal" fill="#231f20">12</text>
<line x1="359.60" y1="150.99" x2="362.20" y2="150.99" stroke="#222" stroke-width="1.25"/>
<text x="356.0" y="153.59" font-size="7.3" text-anchor="end" font-weight="normal" font-style="normal" fill="#231f20">9</text>
<line x1="359.60" y1="174.30" x2="362.20" y2="174.30" stroke="#222" stroke-width="1.25"/>
<text x="356.0" y="176.9" font-size="7.3" text-anchor="end" font-weight="normal" font-style="normal" fill="#231f20">6</text>
<line x1="362.20" y1="174.30" x2="426.70" y2="174.30" stroke="#222" stroke-width="1.25"/>
<line x1="372.60" y1="174.30" x2="372.60" y2="176.70" stroke="#222" stroke-width="1.25"/>
<text x="372.6" y="187.2" font-size="7.3" text-anchor="middle" font-weight="normal" font-style="normal" fill="#231f20">1</text>
<line x1="386.00" y1="174.30" x2="386.00" y2="176.70" stroke="#222" stroke-width="1.25"/>
<text x="386.0" y="187.2" font-size="7.3" text-anchor="middle" font-weight="normal" font-style="normal" fill="#231f20">1</text>
<line x1="407.50" y1="174.30" x2="407.50" y2="176.70" stroke="#222" stroke-width="1.25"/>
<text x="407.5" y="187.2" font-size="7.3" text-anchor="middle" font-weight="normal" font-style="normal" fill="#231f20">4</text>
<line x1="421.00" y1="174.30" x2="421.00" y2="176.70" stroke="#222" stroke-width="1.25"/>
<text x="421.0" y="187.2" font-size="7.3" text-anchor="middle" font-weight="normal" font-style="normal" fill="#231f20">4</text>
<text class="c" transform="translate(342.2 126.3) rotate(-90)" x="0" y="0" font-size="8.5" text-anchor="middle" font-style="normal" fill="#231f20" textLength="17.2" lengthAdjust="spacingAndGlyphs">mNSS</text>
<text class="c" transform="translate(397.6 200.4)" x="0" y="0" font-size="8.5" text-anchor="middle" font-style="normal" fill="#231f20" textLength="67.9" lengthAdjust="spacingAndGlyphs">Weeks post-reperfusion</text>
<text x="368.1" y="77.6" font-size="7.8" fill="#231f20" textLength="24.699999999999978" lengthAdjust="spacingAndGlyphs"><tspan font-style="italic">P</tspan> &lt; .05</text>
<line x1="371.20" y1="81.20" x2="389.50" y2="81.20" stroke="#555" stroke-width="1.1"/>
<text x="404.3" y="77.6" font-size="7.8" fill="#231f20" textLength="24.699999999999978" lengthAdjust="spacingAndGlyphs"><tspan font-style="italic">P</tspan> &lt; .05</text>
<line x1="407.10" y1="81.20" x2="425.40" y2="81.20" stroke="#555" stroke-width="1.1"/>
<circle cx="437.90" cy="82.30" r="2.3" fill="#1a4862"/>
<circle cx="437.90" cy="93.50" r="2.3" fill="#ae142e"/>
<text x="442.9" y="84.89999999999999" font-size="7.15" text-anchor="start" font-weight="normal" font-style="normal" fill="#231f20">Mock infection</text>
<text x="442.9" y="96.1" font-size="7.15" text-anchor="start" font-weight="normal" font-style="italic" fill="#231f20">S. aureus</text>
<line x1="372.60" y1="96.60" x2="372.60" y2="106.70" stroke="#213f6e" stroke-width="1.2"/>
<line x1="372.60" y1="119.91" x2="372.60" y2="150.99" stroke="#213f6e" stroke-width="1.2"/>
<line x1="371.10" y1="96.60" x2="374.10" y2="96.60" stroke="#213f6e" stroke-width="1.2"/>
<line x1="371.10" y1="150.99" x2="374.10" y2="150.99" stroke="#213f6e" stroke-width="1.2"/>
<rect x="367.80" y="106.70" width="9.60" height="13.21" fill="#7f94c5"/>
<line x1="367.80" y1="119.91" x2="377.40" y2="119.91" stroke="#213f6e" stroke-width="0.9"/>
<circle cx="372.60" cy="96.60" r="1.25" fill="#213f6e"/>
<circle cx="372.60" cy="104.37" r="1.25" fill="#213f6e"/>
<circle cx="372.60" cy="112.14" r="1.25" fill="#213f6e"/>
<circle cx="369.60" cy="119.91" r="1.25" fill="#213f6e"/>
<circle cx="371.60" cy="119.91" r="1.25" fill="#213f6e"/>
<circle cx="373.60" cy="119.91" r="1.25" fill="#213f6e"/>
<circle cx="375.60" cy="119.91" r="1.25" fill="#213f6e"/>
<circle cx="372.60" cy="143.22" r="1.25" fill="#213f6e"/>
<circle cx="372.60" cy="150.99" r="1.25" fill="#213f6e"/>
<line x1="386.00" y1="119.91" x2="386.00" y2="130.79" stroke="#c3172f" stroke-width="1.2"/>
<line x1="386.00" y1="150.99" x2="386.00" y2="158.76" stroke="#c3172f" stroke-width="1.2"/>
<line x1="384.50" y1="119.91" x2="387.50" y2="119.91" stroke="#c3172f" stroke-width="1.2"/>
<line x1="384.50" y1="158.76" x2="387.50" y2="158.76" stroke="#c3172f" stroke-width="1.2"/>
<rect x="381.20" y="130.79" width="9.60" height="20.20" fill="#f09e95"/>
<line x1="381.20" y1="143.22" x2="390.80" y2="143.22" stroke="#c3172f" stroke-width="0.9"/>
<circle cx="386.00" cy="119.91" r="1.25" fill="#c3172f"/>
<circle cx="384.50" cy="127.68" r="1.25" fill="#c3172f"/>
<circle cx="387.50" cy="127.68" r="1.25" fill="#c3172f"/>
<circle cx="386.00" cy="135.45" r="1.25" fill="#c3172f"/>
<circle cx="383.00" cy="143.22" r="1.25" fill="#c3172f"/>
<circle cx="385.00" cy="143.22" r="1.25" fill="#c3172f"/>
<circle cx="387.00" cy="143.22" r="1.25" fill="#c3172f"/>
<circle cx="389.00" cy="143.22" r="1.25" fill="#c3172f"/>
<circle cx="383.00" cy="150.99" r="1.25" fill="#c3172f"/>
<circle cx="385.00" cy="150.99" r="1.25" fill="#c3172f"/>
<circle cx="387.00" cy="150.99" r="1.25" fill="#c3172f"/>
<circle cx="389.00" cy="150.99" r="1.25" fill="#c3172f"/>
<circle cx="386.00" cy="158.76" r="1.25" fill="#c3172f"/>
<line x1="407.50" y1="88.83" x2="407.50" y2="96.60" stroke="#213f6e" stroke-width="1.2"/>
<line x1="407.50" y1="112.14" x2="407.50" y2="127.68" stroke="#213f6e" stroke-width="1.2"/>
<line x1="406.00" y1="88.83" x2="409.00" y2="88.83" stroke="#213f6e" stroke-width="1.2"/>
<line x1="406.00" y1="127.68" x2="409.00" y2="127.68" stroke="#213f6e" stroke-width="1.2"/>
<rect x="402.70" y="96.60" width="9.60" height="15.54" fill="#7f94c5"/>
<line x1="402.70" y1="108.26" x2="412.30" y2="108.26" stroke="#213f6e" stroke-width="0.9"/>
<circle cx="407.50" cy="88.83" r="1.25" fill="#213f6e"/>
<circle cx="404.50" cy="96.60" r="1.25" fill="#213f6e"/>
<circle cx="410.50" cy="96.60" r="1.25" fill="#213f6e"/>
<circle cx="406.00" cy="104.37" r="1.25" fill="#213f6e"/>
<circle cx="409.00" cy="104.37" r="1.25" fill="#213f6e"/>
<circle cx="404.50" cy="112.14" r="1.25" fill="#213f6e"/>
<circle cx="406.50" cy="112.14" r="1.25" fill="#213f6e"/>
<circle cx="408.50" cy="112.14" r="1.25" fill="#213f6e"/>
<circle cx="410.50" cy="112.14" r="1.25" fill="#213f6e"/>
<circle cx="406.50" cy="127.68" r="1.25" fill="#213f6e"/>
<circle cx="408.50" cy="127.68" r="1.25" fill="#213f6e"/>
<line x1="421.00" y1="96.60" x2="421.00" y2="119.91" stroke="#c3172f" stroke-width="1.2"/>
<line x1="421.00" y1="134.67" x2="421.00" y2="158.76" stroke="#c3172f" stroke-width="1.2"/>
<line x1="419.50" y1="96.60" x2="422.50" y2="96.60" stroke="#c3172f" stroke-width="1.2"/>
<line x1="419.50" y1="158.76" x2="422.50" y2="158.76" stroke="#c3172f" stroke-width="1.2"/>
<rect x="416.20" y="119.91" width="9.60" height="14.76" fill="#f09e95"/>
<line x1="416.20" y1="123.80" x2="425.80" y2="123.80" stroke="#c3172f" stroke-width="0.9"/>
<circle cx="421.00" cy="96.60" r="1.25" fill="#c3172f"/>
<circle cx="418.00" cy="119.91" r="1.25" fill="#c3172f"/>
<circle cx="420.00" cy="119.91" r="1.25" fill="#c3172f"/>
<circle cx="422.00" cy="119.91" r="1.25" fill="#c3172f"/>
<circle cx="424.00" cy="119.91" r="1.25" fill="#c3172f"/>
<circle cx="421.00" cy="127.68" r="1.25" fill="#c3172f"/>
<circle cx="421.00" cy="134.67" r="1.25" fill="#c3172f"/>
<circle cx="421.00" cy="150.99" r="1.25" fill="#c3172f"/>
<circle cx="421.00" cy="158.76" r="1.25" fill="#c3172f"/>
<text x="6.4" y="227.3" font-size="10.6" text-anchor="start" font-weight="bold" font-style="normal" fill="#111">D</text>
<line x1="39.80" y1="236.80" x2="39.80" y2="333.20" stroke="#222" stroke-width="1.25"/>
<line x1="37.20" y1="239.60" x2="39.80" y2="239.60" stroke="#222" stroke-width="1.25"/>
<text x="33.6" y="242.2" font-size="7.3" text-anchor="end" font-weight="normal" font-style="normal" fill="#231f20">120</text>
<line x1="37.20" y1="255.20" x2="39.80" y2="255.20" stroke="#222" stroke-width="1.25"/>
<text x="33.6" y="257.8" font-size="7.3" text-anchor="end" font-weight="normal" font-style="normal" fill="#231f20">100</text>
<line x1="37.20" y1="270.80" x2="39.80" y2="270.80" stroke="#222" stroke-width="1.25"/>
<text x="33.6" y="273.4" font-size="7.3" text-anchor="end" font-weight="normal" font-style="normal" fill="#231f20">80</text>
<line x1="37.20" y1="286.40" x2="39.80" y2="286.40" stroke="#222" stroke-width="1.25"/>
<text x="33.6" y="289.0" font-size="7.3" text-anchor="end" font-weight="normal" font-style="normal" fill="#231f20">60</text>
<line x1="37.20" y1="302.00" x2="39.80" y2="302.00" stroke="#222" stroke-width="1.25"/>
<text x="33.6" y="304.6" font-size="7.3" text-anchor="end" font-weight="normal" font-style="normal" fill="#231f20">40</text>
<line x1="37.20" y1="317.60" x2="39.80" y2="317.60" stroke="#222" stroke-width="1.25"/>
<text x="33.6" y="320.2" font-size="7.3" text-anchor="end" font-weight="normal" font-style="normal" fill="#231f20">20</text>
<line x1="37.20" y1="333.20" x2="39.80" y2="333.20" stroke="#222" stroke-width="1.25"/>
<text x="33.6" y="335.8" font-size="7.3" text-anchor="end" font-weight="normal" font-style="normal" fill="#231f20">0</text>
<line x1="37.70" y1="333.20" x2="109.80" y2="333.20" stroke="#222" stroke-width="1.25"/>
<line x1="50.30" y1="333.20" x2="50.30" y2="335.60" stroke="#222" stroke-width="1.25"/>
<text x="50.3" y="345.8" font-size="7.3" text-anchor="middle" font-weight="normal" font-style="normal" fill="#231f20">1</text>
<line x1="63.20" y1="333.20" x2="63.20" y2="335.60" stroke="#222" stroke-width="1.25"/>
<text x="63.2" y="345.8" font-size="7.3" text-anchor="middle" font-weight="normal" font-style="normal" fill="#231f20">1</text>
<line x1="84.00" y1="333.20" x2="84.00" y2="335.60" stroke="#222" stroke-width="1.25"/>
<text x="84.0" y="345.8" font-size="7.3" text-anchor="middle" font-weight="normal" font-style="normal" fill="#231f20">4</text>
<line x1="99.70" y1="333.20" x2="99.70" y2="335.60" stroke="#222" stroke-width="1.25"/>
<text x="99.7" y="345.8" font-size="7.3" text-anchor="middle" font-weight="normal" font-style="normal" fill="#231f20">4</text>
<text class="c" transform="translate(14.5 283.6) rotate(-90)" x="0" y="0" font-size="8.5" text-anchor="middle" font-style="normal" fill="#231f20" textLength="53.8" lengthAdjust="spacingAndGlyphs">Rotarod latency (s)</text>
<text class="c" transform="translate(75.0 358.7)" x="0" y="0" font-size="8.5" text-anchor="middle" font-style="normal" fill="#231f20" textLength="67.6" lengthAdjust="spacingAndGlyphs">Weeks post-reperfusion</text>
<text x="42.6" y="243.3" font-size="7.8" fill="#231f20" textLength="25.600000000000005" lengthAdjust="spacingAndGlyphs"><tspan font-style="italic">P</tspan> = NS</text>
<line x1="46.30" y1="246.50" x2="64.20" y2="246.50" stroke="#777" stroke-width="1.5"/>
<text x="79.2" y="243.3" font-size="7.8" fill="#231f20" textLength="25.099999999999998" lengthAdjust="spacingAndGlyphs"><tspan font-style="italic">P</tspan> &lt; .05</text>
<line x1="82.40" y1="246.50" x2="100.60" y2="246.50" stroke="#777" stroke-width="1.5"/>
<circle cx="115.20" cy="240.70" r="2.3" fill="#1a4862"/>
<circle cx="115.20" cy="251.70" r="2.3" fill="#ae142e"/>
<text x="120.2" y="243.29999999999998" font-size="7.15" text-anchor="start" font-weight="normal" font-style="normal" fill="#231f20">Mock infection</text>
<text x="120.2" y="254.29999999999998" font-size="7.15" text-anchor="start" font-weight="normal" font-style="italic" fill="#231f20">S. aureus</text>
<line x1="50.20" y1="261.44" x2="50.20" y2="284.53" stroke="#213f6e" stroke-width="1.2"/>
<line x1="50.20" y1="297.79" x2="50.20" y2="307.62" stroke="#213f6e" stroke-width="1.2"/>
<line x1="48.70" y1="261.44" x2="51.70" y2="261.44" stroke="#213f6e" stroke-width="1.2"/>
<line x1="48.70" y1="307.62" x2="51.70" y2="307.62" stroke="#213f6e" stroke-width="1.2"/>
<rect x="45.40" y="284.53" width="9.60" height="13.26" fill="#7f94c5"/>
<line x1="45.40" y1="290.69" x2="55.00" y2="290.69" stroke="#213f6e" stroke-width="0.9"/>
<circle cx="50.20" cy="261.44" r="1.25" fill="#213f6e"/>
<circle cx="50.20" cy="280.16" r="1.25" fill="#213f6e"/>
<circle cx="47.20" cy="284.84" r="1.25" fill="#213f6e"/>
<circle cx="50.20" cy="284.84" r="1.25" fill="#213f6e"/>
<circle cx="53.20" cy="284.84" r="1.25" fill="#213f6e"/>
<circle cx="48.20" cy="287.96" r="1.25" fill="#213f6e"/>
<circle cx="51.20" cy="289.52" r="1.25" fill="#213f6e"/>
<circle cx="47.20" cy="291.08" r="1.25" fill="#213f6e"/>
<circle cx="53.20" cy="292.64" r="1.25" fill="#213f6e"/>
<circle cx="49.20" cy="294.20" r="1.25" fill="#213f6e"/>
<circle cx="47.20" cy="295.76" r="1.25" fill="#213f6e"/>
<circle cx="53.20" cy="297.32" r="1.25" fill="#213f6e"/>
<circle cx="50.20" cy="303.56" r="1.25" fill="#213f6e"/>
<circle cx="50.20" cy="307.46" r="1.25" fill="#213f6e"/>
<line x1="63.30" y1="255.20" x2="63.30" y2="286.40" stroke="#c3172f" stroke-width="1.2"/>
<line x1="63.30" y1="317.68" x2="63.30" y2="324.39" stroke="#c3172f" stroke-width="1.2"/>
<line x1="61.80" y1="255.20" x2="64.80" y2="255.20" stroke="#c3172f" stroke-width="1.2"/>
<line x1="61.80" y1="324.39" x2="64.80" y2="324.39" stroke="#c3172f" stroke-width="1.2"/>
<rect x="58.50" y="286.40" width="9.60" height="31.28" fill="#f09e95"/>
<line x1="58.50" y1="304.81" x2="68.10" y2="304.81" stroke="#c3172f" stroke-width="0.9"/>
<circle cx="63.30" cy="255.20" r="1.25" fill="#c3172f"/>
<circle cx="63.30" cy="272.36" r="1.25" fill="#c3172f"/>
<circle cx="63.30" cy="282.50" r="1.25" fill="#c3172f"/>
<circle cx="63.30" cy="294.20" r="1.25" fill="#c3172f"/>
<circle cx="62.30" cy="298.88" r="1.25" fill="#c3172f"/>
<circle cx="64.30" cy="302.00" r="1.25" fill="#c3172f"/>
<circle cx="61.30" cy="305.12" r="1.25" fill="#c3172f"/>
<circle cx="65.30" cy="308.24" r="1.25" fill="#c3172f"/>
<circle cx="63.30" cy="312.92" r="1.25" fill="#c3172f"/>
<circle cx="61.30" cy="317.60" r="1.25" fill="#c3172f"/>
<circle cx="65.30" cy="320.72" r="1.25" fill="#c3172f"/>
<circle cx="63.30" cy="323.84" r="1.25" fill="#c3172f"/>
<line x1="84.00" y1="265.03" x2="84.00" y2="280.16" stroke="#213f6e" stroke-width="1.2"/>
<line x1="84.00" y1="304.03" x2="84.00" y2="309.18" stroke="#213f6e" stroke-width="1.2"/>
<line x1="82.50" y1="265.03" x2="85.50" y2="265.03" stroke="#213f6e" stroke-width="1.2"/>
<line x1="82.50" y1="309.18" x2="85.50" y2="309.18" stroke="#213f6e" stroke-width="1.2"/>
<rect x="79.20" y="280.16" width="9.60" height="23.87" fill="#7f94c5"/>
<line x1="79.20" y1="296.77" x2="88.80" y2="296.77" stroke="#213f6e" stroke-width="0.9"/>
<circle cx="85.00" cy="265.34" r="1.25" fill="#213f6e"/>
<circle cx="83.00" cy="267.68" r="1.25" fill="#213f6e"/>
<circle cx="84.00" cy="277.04" r="1.25" fill="#213f6e"/>
<circle cx="84.00" cy="286.40" r="1.25" fill="#213f6e"/>
<circle cx="82.00" cy="295.76" r="1.25" fill="#213f6e"/>
<circle cx="86.00" cy="297.32" r="1.25" fill="#213f6e"/>
<circle cx="81.00" cy="298.88" r="1.25" fill="#213f6e"/>
<circle cx="84.00" cy="300.44" r="1.25" fill="#213f6e"/>
<circle cx="87.00" cy="302.00" r="1.25" fill="#213f6e"/>
<circle cx="83.00" cy="303.56" r="1.25" fill="#213f6e"/>
<circle cx="86.00" cy="305.12" r="1.25" fill="#213f6e"/>
<circle cx="84.00" cy="309.02" r="1.25" fill="#213f6e"/>
<line x1="99.70" y1="279.69" x2="99.70" y2="299.11" stroke="#c3172f" stroke-width="1.2"/>
<line x1="99.70" y1="323.84" x2="99.70" y2="328.68" stroke="#c3172f" stroke-width="1.2"/>
<line x1="98.20" y1="279.69" x2="101.20" y2="279.69" stroke="#c3172f" stroke-width="1.2"/>
<line x1="98.20" y1="328.68" x2="101.20" y2="328.68" stroke="#c3172f" stroke-width="1.2"/>
<rect x="94.90" y="299.11" width="9.60" height="24.73" fill="#f09e95"/>
<line x1="94.90" y1="311.98" x2="104.50" y2="311.98" stroke="#c3172f" stroke-width="0.9"/>
<circle cx="99.70" cy="280.16" r="1.25" fill="#c3172f"/>
<circle cx="99.70" cy="289.52" r="1.25" fill="#c3172f"/>
<circle cx="99.70" cy="295.76" r="1.25" fill="#c3172f"/>
<circle cx="96.70" cy="308.24" r="1.25" fill="#c3172f"/>
<circle cx="102.70" cy="309.80" r="1.25" fill="#c3172f"/>
<circle cx="99.70" cy="312.14" r="1.25" fill="#c3172f"/>
<circle cx="97.70" cy="314.48" r="1.25" fill="#c3172f"/>
<circle cx="101.70" cy="317.60" r="1.25" fill="#c3172f"/>
<circle cx="96.70" cy="321.50" r="1.25" fill="#c3172f"/>
<circle cx="102.70" cy="323.84" r="1.25" fill="#c3172f"/>
<circle cx="99.70" cy="325.40" r="1.25" fill="#c3172f"/>
<circle cx="99.70" cy="328.52" r="1.25" fill="#c3172f"/>
<text x="181.1" y="227.5" font-size="10.6" text-anchor="start" font-weight="bold" font-style="normal" fill="#111">E</text>
<line x1="214.60" y1="236.25" x2="214.60" y2="333.30" stroke="#222" stroke-width="1.25"/>
<line x1="212.00" y1="239.05" x2="214.60" y2="239.05" stroke="#222" stroke-width="1.25"/>
<text x="208.4" y="241.65" font-size="7.3" text-anchor="end" font-weight="normal" font-style="normal" fill="#231f20">350</text>
<line x1="212.00" y1="252.51" x2="214.60" y2="252.51" stroke="#222" stroke-width="1.25"/>
<text x="208.4" y="255.11" font-size="7.3" text-anchor="end" font-weight="normal" font-style="normal" fill="#231f20">300</text>
<line x1="212.00" y1="265.98" x2="214.60" y2="265.98" stroke="#222" stroke-width="1.25"/>
<text x="208.4" y="268.58" font-size="7.3" text-anchor="end" font-weight="normal" font-style="normal" fill="#231f20">250</text>
<line x1="212.00" y1="279.44" x2="214.60" y2="279.44" stroke="#222" stroke-width="1.25"/>
<text x="208.4" y="282.04" font-size="7.3" text-anchor="end" font-weight="normal" font-style="normal" fill="#231f20">200</text>
<line x1="212.00" y1="292.91" x2="214.60" y2="292.91" stroke="#222" stroke-width="1.25"/>
<text x="208.4" y="295.51" font-size="7.3" text-anchor="end" font-weight="normal" font-style="normal" fill="#231f20">150</text>
<line x1="212.00" y1="306.37" x2="214.60" y2="306.37" stroke="#222" stroke-width="1.25"/>
<text x="208.4" y="308.97" font-size="7.3" text-anchor="end" font-weight="normal" font-style="normal" fill="#231f20">100</text>
<line x1="212.00" y1="319.84" x2="214.60" y2="319.84" stroke="#222" stroke-width="1.25"/>
<text x="208.4" y="322.44" font-size="7.3" text-anchor="end" font-weight="normal" font-style="normal" fill="#231f20">50</text>
<line x1="212.00" y1="333.30" x2="214.60" y2="333.30" stroke="#222" stroke-width="1.25"/>
<text x="208.4" y="335.9" font-size="7.3" text-anchor="end" font-weight="normal" font-style="normal" fill="#231f20">0</text>
<line x1="212.40" y1="333.30" x2="285.00" y2="333.30" stroke="#222" stroke-width="1.25"/>
<line x1="225.20" y1="333.30" x2="225.20" y2="335.70" stroke="#222" stroke-width="1.25"/>
<text x="225.2" y="345.8" font-size="7.3" text-anchor="middle" font-weight="normal" font-style="normal" fill="#231f20">1</text>
<line x1="239.00" y1="333.30" x2="239.00" y2="335.70" stroke="#222" stroke-width="1.25"/>
<text x="239.0" y="345.8" font-size="7.3" text-anchor="middle" font-weight="normal" font-style="normal" fill="#231f20">1</text>
<line x1="260.40" y1="333.30" x2="260.40" y2="335.70" stroke="#222" stroke-width="1.25"/>
<text x="260.4" y="345.8" font-size="7.3" text-anchor="middle" font-weight="normal" font-style="normal" fill="#231f20">4</text>
<line x1="274.20" y1="333.30" x2="274.20" y2="335.70" stroke="#222" stroke-width="1.25"/>
<text x="274.2" y="345.8" font-size="7.3" text-anchor="middle" font-weight="normal" font-style="normal" fill="#231f20">4</text>
<text class="c" transform="translate(189.2 284.4) rotate(-90)" x="0" y="0" font-size="8.5" text-anchor="middle" font-style="normal" fill="#231f20" textLength="66.7" lengthAdjust="spacingAndGlyphs">Wire hanging latency (s)</text>
<text class="c" transform="translate(250.2 359.0)" x="0" y="0" font-size="8.5" text-anchor="middle" font-style="normal" fill="#231f20" textLength="67.9" lengthAdjust="spacingAndGlyphs">Weeks post-reperfusion</text>
<text x="219.5" y="240.0" font-size="7.8" fill="#231f20" textLength="24.700000000000006" lengthAdjust="spacingAndGlyphs"><tspan font-style="italic">P</tspan> &lt; .05</text>
<line x1="222.70" y1="243.50" x2="240.90" y2="243.50" stroke="#666" stroke-width="1.3"/>
<text x="255.5" y="239.3" font-size="7.8" fill="#231f20" textLength="24.8" lengthAdjust="spacingAndGlyphs"><tspan font-style="italic">P</tspan> &lt; .05</text>
<line x1="259.10" y1="242.80" x2="277.30" y2="242.80" stroke="#666" stroke-width="1.3"/>
<circle cx="290.70" cy="240.70" r="2.3" fill="#1a4862"/>
<circle cx="290.70" cy="251.70" r="2.3" fill="#ae142e"/>
<text x="295.7" y="243.29999999999998" font-size="7.15" text-anchor="start" font-weight="normal" font-style="normal" fill="#231f20">Mock infection</text>
<text x="295.7" y="254.29999999999998" font-size="7.15" text-anchor="start" font-weight="normal" font-style="italic" fill="#231f20">S. aureus</text>
<line x1="225.20" y1="252.51" x2="225.20" y2="252.51" stroke="#213f6e" stroke-width="1.2"/>
<line x1="225.20" y1="270.10" x2="225.20" y2="291.02" stroke="#213f6e" stroke-width="1.2"/>
<line x1="223.70" y1="252.51" x2="226.70" y2="252.51" stroke="#213f6e" stroke-width="1.2"/>
<line x1="223.70" y1="291.02" x2="226.70" y2="291.02" stroke="#213f6e" stroke-width="1.2"/>
<rect x="220.40" y="252.51" width="9.60" height="17.59" fill="#7f94c5"/>
<line x1="220.40" y1="258.27" x2="230.00" y2="258.27" stroke="#213f6e" stroke-width="0.9"/>
<line x1="220.40" y1="252.51" x2="230.00" y2="252.51" stroke="#213f6e" stroke-width="1.6"/>
<circle cx="222.20" cy="252.51" r="1.25" fill="#213f6e"/>
<circle cx="224.20" cy="252.51" r="1.25" fill="#213f6e"/>
<circle cx="226.20" cy="252.51" r="1.25" fill="#213f6e"/>
<circle cx="228.20" cy="252.51" r="1.25" fill="#213f6e"/>
<circle cx="225.20" cy="255.20" r="1.25" fill="#213f6e"/>
<circle cx="225.20" cy="260.59" r="1.25" fill="#213f6e"/>
<circle cx="225.20" cy="263.28" r="1.25" fill="#213f6e"/>
<circle cx="225.20" cy="268.67" r="1.25" fill="#213f6e"/>
<circle cx="224.70" cy="272.71" r="1.25" fill="#213f6e"/>
<circle cx="227.70" cy="272.17" r="1.25" fill="#213f6e"/>
<circle cx="225.20" cy="291.02" r="1.25" fill="#213f6e"/>
<line x1="239.00" y1="252.51" x2="239.00" y2="271.20" stroke="#c3172f" stroke-width="1.2"/>
<line x1="239.00" y1="300.18" x2="239.00" y2="325.22" stroke="#c3172f" stroke-width="1.2"/>
<line x1="237.50" y1="252.51" x2="240.50" y2="252.51" stroke="#c3172f" stroke-width="1.2"/>
<line x1="237.50" y1="325.22" x2="240.50" y2="325.22" stroke="#c3172f" stroke-width="1.2"/>
<rect x="234.20" y="271.20" width="9.60" height="28.98" fill="#f09e95"/>
<line x1="234.20" y1="282.13" x2="243.80" y2="282.13" stroke="#c3172f" stroke-width="0.9"/>
<circle cx="239.00" cy="252.51" r="1.25" fill="#c3172f"/>
<circle cx="239.00" cy="257.90" r="1.25" fill="#c3172f"/>
<circle cx="239.00" cy="267.32" r="1.25" fill="#c3172f"/>
<circle cx="237.00" cy="277.29" r="1.25" fill="#c3172f"/>
<circle cx="241.00" cy="278.63" r="1.25" fill="#c3172f"/>
<circle cx="239.00" cy="281.59" r="1.25" fill="#c3172f"/>
<circle cx="237.00" cy="284.29" r="1.25" fill="#c3172f"/>
<circle cx="241.00" cy="284.83" r="1.25" fill="#c3172f"/>
<circle cx="239.00" cy="292.91" r="1.25" fill="#c3172f"/>
<circle cx="239.00" cy="303.68" r="1.25" fill="#c3172f"/>
<circle cx="239.00" cy="318.49" r="1.25" fill="#c3172f"/>
<circle cx="239.00" cy="325.22" r="1.25" fill="#c3172f"/>
<line x1="260.40" y1="252.51" x2="260.40" y2="252.51" stroke="#213f6e" stroke-width="1.2"/>
<line x1="260.40" y1="278.20" x2="260.40" y2="290.48" stroke="#213f6e" stroke-width="1.2"/>
<line x1="258.90" y1="252.51" x2="261.90" y2="252.51" stroke="#213f6e" stroke-width="1.2"/>
<line x1="258.90" y1="290.48" x2="261.90" y2="290.48" stroke="#213f6e" stroke-width="1.2"/>
<rect x="255.60" y="252.51" width="9.60" height="25.69" fill="#7f94c5"/>
<line x1="255.60" y1="252.51" x2="265.20" y2="252.51" stroke="#213f6e" stroke-width="0.9"/>
<circle cx="257.40" cy="252.51" r="1.25" fill="#213f6e"/>
<circle cx="259.40" cy="252.51" r="1.25" fill="#213f6e"/>
<circle cx="261.40" cy="252.51" r="1.25" fill="#213f6e"/>
<circle cx="263.40" cy="252.51" r="1.25" fill="#213f6e"/>
<circle cx="260.40" cy="279.44" r="1.25" fill="#213f6e"/>
<circle cx="260.40" cy="287.52" r="1.25" fill="#213f6e"/>
<circle cx="260.40" cy="290.21" r="1.25" fill="#213f6e"/>
<line x1="274.00" y1="259.24" x2="274.00" y2="280.25" stroke="#c3172f" stroke-width="1.2"/>
<line x1="274.00" y1="322.53" x2="274.00" y2="330.61" stroke="#c3172f" stroke-width="1.2"/>
<line x1="272.50" y1="259.24" x2="275.50" y2="259.24" stroke="#c3172f" stroke-width="1.2"/>
<line x1="272.50" y1="330.61" x2="275.50" y2="330.61" stroke="#c3172f" stroke-width="1.2"/>
<rect x="269.20" y="280.25" width="9.60" height="42.28" fill="#f09e95"/>
<line x1="269.20" y1="306.37" x2="278.80" y2="306.37" stroke="#c3172f" stroke-width="0.9"/>
<circle cx="274.00" cy="259.24" r="1.25" fill="#c3172f"/>
<circle cx="274.00" cy="268.67" r="1.25" fill="#c3172f"/>
<circle cx="274.00" cy="282.13" r="1.25" fill="#c3172f"/>
<circle cx="274.00" cy="290.21" r="1.25" fill="#c3172f"/>
<circle cx="274.00" cy="306.37" r="1.25" fill="#c3172f"/>
<circle cx="274.00" cy="310.41" r="1.25" fill="#c3172f"/>
<circle cx="274.00" cy="317.14" r="1.25" fill="#c3172f"/>
<circle cx="274.00" cy="319.84" r="1.25" fill="#c3172f"/>
<circle cx="272.00" cy="323.87" r="1.25" fill="#c3172f"/>
<circle cx="276.00" cy="325.76" r="1.25" fill="#c3172f"/>
<circle cx="274.00" cy="330.61" r="1.25" fill="#c3172f"/>
<line x1="220.40" y1="252.51" x2="230.00" y2="252.51" stroke="#213f6e" stroke-width="2.0"/>
<line x1="255.60" y1="252.51" x2="265.20" y2="252.51" stroke="#213f6e" stroke-width="2.0"/>
<text x="355.9" y="227.4" font-size="10.6" text-anchor="start" font-weight="bold" font-style="normal" fill="#111">F</text>
<line x1="386.70" y1="239.30" x2="386.70" y2="333.10" stroke="#222" stroke-width="1.25"/>
<line x1="384.10" y1="247.60" x2="386.70" y2="247.60" stroke="#222" stroke-width="1.25"/>
<text x="380.5" y="250.2" font-size="7.3" text-anchor="end" font-weight="normal" font-style="normal" fill="#231f20">1.0</text>
<line x1="384.10" y1="263.26" x2="386.70" y2="263.26" stroke="#222" stroke-width="1.25"/>
<text x="380.5" y="265.86" font-size="7.3" text-anchor="end" font-weight="normal" font-style="normal" fill="#231f20">0.8</text>
<line x1="384.10" y1="278.92" x2="386.70" y2="278.92" stroke="#222" stroke-width="1.25"/>
<text x="380.5" y="281.52" font-size="7.3" text-anchor="end" font-weight="normal" font-style="normal" fill="#231f20">0.6</text>
<line x1="384.10" y1="294.58" x2="386.70" y2="294.58" stroke="#222" stroke-width="1.25"/>
<text x="380.5" y="297.18" font-size="7.3" text-anchor="end" font-weight="normal" font-style="normal" fill="#231f20">0.4</text>
<line x1="384.10" y1="310.24" x2="386.70" y2="310.24" stroke="#222" stroke-width="1.25"/>
<text x="380.5" y="312.84" font-size="7.3" text-anchor="end" font-weight="normal" font-style="normal" fill="#231f20">0.2</text>
<line x1="384.10" y1="325.90" x2="386.70" y2="325.90" stroke="#222" stroke-width="1.25"/>
<text x="380.5" y="328.5" font-size="7.3" text-anchor="end" font-weight="normal" font-style="normal" fill="#231f20">0.0</text>
<line x1="386.30" y1="333.10" x2="457.30" y2="333.10" stroke="#222" stroke-width="1.25"/>
<line x1="396.90" y1="333.10" x2="396.90" y2="335.50" stroke="#222" stroke-width="1.25"/>
<text x="396.9" y="345.6" font-size="7.3" text-anchor="middle" font-weight="normal" font-style="normal" fill="#231f20">1</text>
<line x1="409.70" y1="333.10" x2="409.70" y2="335.50" stroke="#222" stroke-width="1.25"/>
<text x="409.7" y="345.6" font-size="7.3" text-anchor="middle" font-weight="normal" font-style="normal" fill="#231f20">1</text>
<line x1="430.80" y1="333.10" x2="430.80" y2="335.50" stroke="#222" stroke-width="1.25"/>
<text x="430.8" y="345.6" font-size="7.3" text-anchor="middle" font-weight="normal" font-style="normal" fill="#231f20">4</text>
<line x1="445.80" y1="333.10" x2="445.80" y2="335.50" stroke="#222" stroke-width="1.25"/>
<text x="445.8" y="345.6" font-size="7.3" text-anchor="middle" font-weight="normal" font-style="normal" fill="#231f20">4</text>
<text class="c" transform="translate(364.7 285.8) rotate(-90)" x="0" y="0" font-size="8.5" text-anchor="middle" font-style="normal" fill="#231f20" textLength="48.9" lengthAdjust="spacingAndGlyphs">Corner test index</text>
<text class="c" transform="translate(422.1 358.3)" x="0" y="0" font-size="8.5" text-anchor="middle" font-style="normal" fill="#231f20" textLength="68.4" lengthAdjust="spacingAndGlyphs">Weeks post-reperfusion</text>
<text x="391.5" y="237.9" font-size="7.8" fill="#231f20" textLength="25.100000000000012" lengthAdjust="spacingAndGlyphs"><tspan font-style="italic">P</tspan> &lt; .05</text>
<line x1="395.00" y1="241.00" x2="412.90" y2="241.00" stroke="#666" stroke-width="1.3"/>
<text x="427.9" y="237.9" font-size="7.8" fill="#231f20" textLength="25.000000000000046" lengthAdjust="spacingAndGlyphs"><tspan font-style="italic">P</tspan> &lt; .05</text>
<line x1="431.30" y1="241.00" x2="449.90" y2="241.00" stroke="#666" stroke-width="1.3"/>
<circle cx="462.20" cy="243.50" r="2.3" fill="#1a4862"/>
<circle cx="462.20" cy="254.80" r="2.3" fill="#ae142e"/>
<text x="467.2" y="246.1" font-size="7.15" text-anchor="start" font-weight="normal" font-style="normal" fill="#231f20">Mock infection</text>
<text x="467.2" y="257.40000000000003" font-size="7.15" text-anchor="start" font-weight="normal" font-style="italic" fill="#231f20">S. aureus</text>
<line x1="396.90" y1="247.60" x2="396.90" y2="267.96" stroke="#213f6e" stroke-width="1.2"/>
<line x1="396.90" y1="310.24" x2="396.90" y2="325.90" stroke="#213f6e" stroke-width="1.2"/>
<line x1="395.40" y1="247.60" x2="398.40" y2="247.60" stroke="#213f6e" stroke-width="1.2"/>
<line x1="395.40" y1="325.90" x2="398.40" y2="325.90" stroke="#213f6e" stroke-width="1.2"/>
<rect x="392.10" y="267.96" width="9.60" height="42.28" fill="#7f94c5"/>
<line x1="392.10" y1="294.58" x2="401.70" y2="294.58" stroke="#213f6e" stroke-width="0.9"/>
<circle cx="396.90" cy="247.60" r="1.25" fill="#213f6e"/>
<circle cx="395.40" cy="263.26" r="1.25" fill="#213f6e"/>
<circle cx="398.40" cy="263.26" r="1.25" fill="#213f6e"/>
<circle cx="396.90" cy="278.92" r="1.25" fill="#213f6e"/>
<circle cx="393.40" cy="294.58" r="1.25" fill="#213f6e"/>
<circle cx="395.70" cy="294.58" r="1.25" fill="#213f6e"/>
<circle cx="398.10" cy="294.58" r="1.25" fill="#213f6e"/>
<circle cx="400.40" cy="294.58" r="1.25" fill="#213f6e"/>
<circle cx="393.90" cy="310.24" r="1.25" fill="#213f6e"/>
<circle cx="395.90" cy="310.24" r="1.25" fill="#213f6e"/>
<circle cx="397.90" cy="310.24" r="1.25" fill="#213f6e"/>
<circle cx="399.90" cy="310.24" r="1.25" fill="#213f6e"/>
<circle cx="396.90" cy="325.90" r="1.25" fill="#213f6e"/>
<line x1="409.70" y1="247.60" x2="409.70" y2="247.60" stroke="#c3172f" stroke-width="1.2"/>
<line x1="409.70" y1="263.26" x2="409.70" y2="278.92" stroke="#c3172f" stroke-width="1.2"/>
<line x1="408.20" y1="247.60" x2="411.20" y2="247.60" stroke="#c3172f" stroke-width="1.2"/>
<line x1="408.20" y1="278.92" x2="411.20" y2="278.92" stroke="#c3172f" stroke-width="1.2"/>
<rect x="404.90" y="247.60" width="9.60" height="15.66" fill="#f09e95"/>
<line x1="404.90" y1="255.43" x2="414.50" y2="255.43" stroke="#c3172f" stroke-width="0.9"/>
<line x1="404.90" y1="251.51" x2="414.50" y2="251.51" stroke="#e5707a" stroke-width="1.0"/>
<line x1="404.90" y1="259.34" x2="414.50" y2="259.34" stroke="#e5707a" stroke-width="1.0"/>
<line x1="404.90" y1="247.60" x2="414.50" y2="247.60" stroke="#c3172f" stroke-width="1.6"/>
<line x1="404.90" y1="263.26" x2="414.50" y2="263.26" stroke="#c3172f" stroke-width="1.6"/>
<circle cx="406.70" cy="247.60" r="1.25" fill="#c3172f"/>
<circle cx="408.70" cy="247.60" r="1.25" fill="#c3172f"/>
<circle cx="410.70" cy="247.60" r="1.25" fill="#c3172f"/>
<circle cx="412.70" cy="247.60" r="1.25" fill="#c3172f"/>
<circle cx="406.70" cy="263.26" r="1.25" fill="#c3172f"/>
<circle cx="408.70" cy="263.26" r="1.25" fill="#c3172f"/>
<circle cx="410.70" cy="263.26" r="1.25" fill="#c3172f"/>
<circle cx="412.70" cy="263.26" r="1.25" fill="#c3172f"/>
<circle cx="409.70" cy="278.92" r="1.25" fill="#c3172f"/>
<line x1="430.80" y1="278.92" x2="430.80" y2="294.58" stroke="#213f6e" stroke-width="1.2"/>
<line x1="430.80" y1="325.90" x2="430.80" y2="325.90" stroke="#213f6e" stroke-width="1.2"/>
<line x1="429.30" y1="278.92" x2="432.30" y2="278.92" stroke="#213f6e" stroke-width="1.2"/>
<line x1="429.30" y1="325.90" x2="432.30" y2="325.90" stroke="#213f6e" stroke-width="1.2"/>
<rect x="426.00" y="294.58" width="9.60" height="31.32" fill="#7f94c5"/>
<line x1="426.00" y1="310.24" x2="435.60" y2="310.24" stroke="#213f6e" stroke-width="0.9"/>
<circle cx="429.30" cy="278.92" r="1.25" fill="#213f6e"/>
<circle cx="432.30" cy="278.92" r="1.25" fill="#213f6e"/>
<circle cx="429.30" cy="294.58" r="1.25" fill="#213f6e"/>
<circle cx="432.30" cy="294.58" r="1.25" fill="#213f6e"/>
<circle cx="427.30" cy="310.24" r="1.25" fill="#213f6e"/>
<circle cx="429.60" cy="310.24" r="1.25" fill="#213f6e"/>
<circle cx="432.00" cy="310.24" r="1.25" fill="#213f6e"/>
<circle cx="434.30" cy="310.24" r="1.25" fill="#213f6e"/>
<circle cx="427.30" cy="325.90" r="1.25" fill="#213f6e"/>
<circle cx="429.60" cy="325.90" r="1.25" fill="#213f6e"/>
<circle cx="432.00" cy="325.90" r="1.25" fill="#213f6e"/>
<circle cx="434.30" cy="325.90" r="1.25" fill="#213f6e"/>
<line x1="445.80" y1="247.60" x2="445.80" y2="247.60" stroke="#c3172f" stroke-width="1.2"/>
<line x1="445.80" y1="273.44" x2="445.80" y2="294.58" stroke="#c3172f" stroke-width="1.2"/>
<line x1="444.30" y1="247.60" x2="447.30" y2="247.60" stroke="#c3172f" stroke-width="1.2"/>
<line x1="444.30" y1="294.58" x2="447.30" y2="294.58" stroke="#c3172f" stroke-width="1.2"/>
<rect x="441.00" y="247.60" width="9.60" height="25.84" fill="#f09e95"/>
<line x1="441.00" y1="255.43" x2="450.60" y2="255.43" stroke="#c3172f" stroke-width="0.9"/>
<line x1="441.00" y1="247.60" x2="450.60" y2="247.60" stroke="#c3172f" stroke-width="1.6"/>
<line x1="441.00" y1="263.26" x2="450.60" y2="263.26" stroke="#c3172f" stroke-width="1.6"/>
<circle cx="442.80" cy="247.60" r="1.25" fill="#c3172f"/>
<circle cx="444.80" cy="247.60" r="1.25" fill="#c3172f"/>
<circle cx="446.80" cy="247.60" r="1.25" fill="#c3172f"/>
<circle cx="448.80" cy="247.60" r="1.25" fill="#c3172f"/>
<circle cx="443.80" cy="263.26" r="1.25" fill="#c3172f"/>
<circle cx="445.80" cy="263.26" r="1.25" fill="#c3172f"/>
<circle cx="447.80" cy="263.26" r="1.25" fill="#c3172f"/>
<circle cx="445.80" cy="278.92" r="1.25" fill="#c3172f"/>
<circle cx="445.80" cy="294.58" r="1.25" fill="#c3172f"/>
<rect x="0" y="0" width="520" height="1" fill="#6e6e6e"/>
<rect x="0" y="0" width="1" height="368" fill="#555"/>
<rect x="519" y="0" width="1" height="368" fill="#5a5a5a"/>
<rect x="0" y="367" width="520" height="1" fill="#5a5a5a"/>
</svg>
</body></html>
